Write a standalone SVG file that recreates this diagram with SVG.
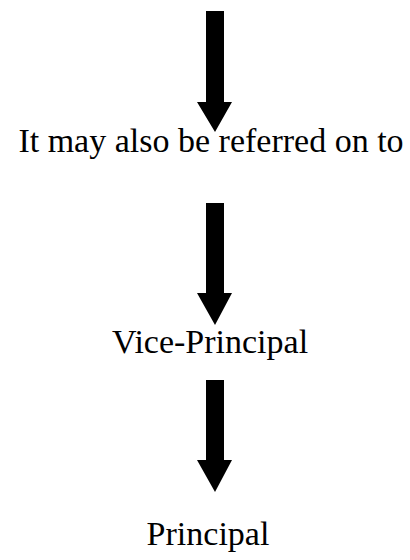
<svg xmlns="http://www.w3.org/2000/svg" width="410" height="560" viewBox="0 0 410 560">
<style>
.t{font-family:"Liberation Serif","Times New Roman",serif;font-size:34px;fill:#000;text-anchor:middle}
.a{fill:#000;stroke:none}
</style>
<rect width="410" height="560" fill="#fff"/>
<g id="connectors">
<polygon class="a" points="206,11 224,11 224,102 232,102 215,132 197,102 206,102"/>
<polygon class="a" points="206,203 224,203 224,293 232,293 215,325 197,293 206,293"/>
<polygon class="a" points="206,380 224,380 224,460 232,460 215,492 197,460 206,460"/>
</g>
<g id="n1"><text class="t" x="211" y="152">It may also be referred on to</text></g>
<g id="n2"><text class="t" x="210" y="353">Vice-Principal</text></g>
<g id="n3"><text class="t" x="208" y="545">Principal</text></g>
</svg>
